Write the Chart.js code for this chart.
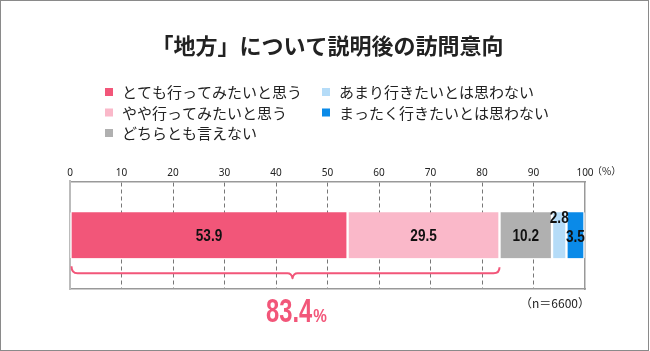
<!DOCTYPE html>
<html>
<head>
<meta charset="utf-8">
<script src="https://cdn.jsdelivr.net/npm/chart.js@4"></script>
<style>
  html, body { margin: 0; padding: 0; background: #fff; }
  #wrap { position: relative; width: 650px; height: 351px; }
  canvas { display: block; }
</style>
</head>
<body>
<div id="wrap"><canvas id="c" width="650" height="351"></canvas></div>
<script>
// ---- data ----
const chartTitle = '「地方」について説明後の訪問意向';
const categories = ['訪問意向'];
const seriesLabels = [
  'とても行ってみたいと思う',
  'やや行ってみたいと思う',
  'どちらとも言えない',
  'あまり行きたいとは思わない',
  'まったく行きたいとは思わない'
];
const seriesValues = [53.9, 29.5, 10.2, 2.8, 3.5];
const xTicks = [0, 10, 20, 30, 40, 50, 60, 70, 80, 90, 100];
const unitLabel = '（%）';
const sampleNote = '（n＝6600）';
const braceSeries = [0, 1]; // series summed under the brace

// ---- styles ----
const seriesColors = ['#F25679', '#FAB8C9', '#B0B0B0', '#B5DCF8', '#0A8AE8'];
const labelDy = [0, 0, 0, -18, 1];
const PINK = '#F25679';
const NUM_FONT = "'Liberation Sans', Arial, sans-serif";
const JP_FONT = "'Noto Sans CJK JP', 'Noto Sans', sans-serif";

const datasets = seriesLabels.map((lab, i) => ({
  label: lab,
  data: [seriesValues[i]],
  backgroundColor: seriesColors[i],
  borderColor: '#ffffff',
  borderWidth: { left: 1.5, right: 1.5, top: 0, bottom: 0 },
  borderSkipped: false,
  barThickness: 46,
  labelDy: labelDy[i]
}));

function narrowText(ctx, text, x, y, font, sx, align) {
  ctx.save();
  ctx.font = font;
  const w = ctx.measureText(text).width * sx;
  let left = x;
  if (align === 'center') left = x - w / 2;
  else if (align === 'right') left = x - w;
  ctx.translate(left, y);
  ctx.scale(sx, 1);
  ctx.textAlign = 'left';
  ctx.fillText(text, 0, 0);
  ctx.restore();
  return w;
}

const framePlugin = {
  id: 'frame',
  afterDraw(chart) {
    const ctx = chart.ctx;
    ctx.save();
    ctx.strokeStyle = '#8a8a8a';
    ctx.lineWidth = 1;
    ctx.strokeRect(0.5, 0.5, chart.width - 2, chart.height - 1);
    ctx.restore();
  }
};

const legendPlugin = {
  id: 'gridLegend',
  afterDraw(chart) {
    const ctx = chart.ctx;
    const rows = 3;
    const colX = [105, 322];
    const rowY = [92, 112.5, 133];
    ctx.save();
    ctx.font = '15px ' + JP_FONT;
    ctx.textBaseline = 'middle';
    ctx.textAlign = 'left';
    chart.data.datasets.forEach((ds, i) => {
      const c = Math.floor(i / rows), r = i % rows;
      const x = colX[c], y = rowY[r];
      ctx.fillStyle = ds.backgroundColor;
      ctx.fillRect(x, y - 4, 8, 8);
      ctx.fillStyle = '#222';
      ctx.fillText(ds.label, x + 17, y + 0.5);
    });
    ctx.restore();
  }
};

const labelsPlugin = {
  id: 'barLabels',
  afterDatasetsDraw(chart) {
    const ctx = chart.ctx;
    ctx.save();
    ctx.fillStyle = '#111';
    ctx.textBaseline = 'middle';
    chart.data.datasets.forEach((ds, i) => {
      const meta = chart.getDatasetMeta(i);
      meta.data.forEach((el, j) => {
        const p = el.getProps(['x', 'y', 'base'], true);
        const cx = (p.x + p.base) / 2;
        narrowText(ctx, ds.data[j].toFixed(1), cx, p.y + (ds.labelDy || 0) + 1, 'bold 17px ' + NUM_FONT, 0.8, 'center');
      });
    });
    ctx.restore();
  }
};

const bracePlugin = {
  id: 'brace',
  afterDatasetsDraw(chart) {
    const ctx = chart.ctx;
    const xs = chart.scales.x;
    const el = chart.getDatasetMeta(0).data[0];
    const props = el.getProps(['y', 'height'], true);
    const barBottom = props.y + props.height / 2;
    const total = braceSeries.reduce((s, i) => s + seriesValues[i], 0);
    const x0 = xs.getPixelForValue(0) + 1.5;
    const x1 = xs.getPixelForValue(total);
    const y = barBottom + 15;
    const m = (x0 + x1) / 2 + 7;
    ctx.save();
    ctx.strokeStyle = PINK;
    ctx.lineWidth = 2;
    ctx.lineJoin = 'round';
    ctx.beginPath();
    ctx.moveTo(x0, y - 7);
    ctx.quadraticCurveTo(x0, y, x0 + 6, y);
    ctx.lineTo(m - 5, y);
    ctx.quadraticCurveTo(m - 1, y, m, y + 5);
    ctx.quadraticCurveTo(m + 1, y, m + 5, y);
    ctx.lineTo(x1 - 6, y);
    ctx.quadraticCurveTo(x1, y, x1, y - 6);
    ctx.stroke();

    // total text
    const big = total.toFixed(1);
    ctx.fillStyle = PINK;
    ctx.textBaseline = 'alphabetic';
    const bigFont = 'bold 33px ' + NUM_FONT;
    const pctFont = 'bold 18px ' + NUM_FONT;
    const sBig = 0.72, sPct = 0.85;
    ctx.font = bigFont;
    const wBig = ctx.measureText(big).width * sBig;
    ctx.font = pctFont;
    const wPct = ctx.measureText('%').width * sPct;
    const startX = m + 4 - (wBig + wPct + 1) / 2;
    const baseY = y + 48.5;
    narrowText(ctx, big, startX, baseY, bigFont, sBig, 'left');
    narrowText(ctx, '%', startX + wBig + 1, baseY, pctFont, sPct, 'left');

    // sample note
    ctx.font = '12px ' + JP_FONT;
    ctx.fillStyle = '#222';
    ctx.textAlign = 'right';
    ctx.textBaseline = 'middle';
    ctx.fillText(sampleNote, chart.chartArea.right + 5, chart.chartArea.bottom + 14);

    // unit label after last tick
    ctx.font = '10px ' + JP_FONT;
    ctx.textAlign = 'left';
    ctx.fillText(unitLabel, xs.getPixelForValue(xTicks[xTicks.length - 1]) + 7, chart.chartArea.top - 10);
    ctx.restore();
  }
};

new Chart(document.getElementById('c'), {
  type: 'bar',
  data: { labels: categories, datasets },
  options: {
    indexAxis: 'y',
    responsive: false,
    animation: false,
    devicePixelRatio: 1,
    layout: { padding: { top: 0, left: 70, right: 65, bottom: 62 } },
    plugins: {
      legend: { display: false },
      tooltip: { enabled: false },
      title: {
        display: true,
        text: chartTitle,
        color: '#222',
        font: { family: JP_FONT, size: 22, weight: 'bold', lineHeight: 1.2 },
        padding: { top: 32, bottom: 95 }
      }
    },
    scales: {
      x: {
        type: 'linear',
        position: 'top',
        stacked: true,
        min: 0,
        max: 100,
        afterBuildTicks(scale) { scale.ticks = xTicks.map(v => ({ value: v })); },
        afterFit(scale) { scale.height = 28; },
        ticks: {
          color: '#222',
          font: { family: "'Noto Sans', 'DejaVu Sans', sans-serif", size: 10 },
          padding: 2,
          maxRotation: 0,
          autoSkip: false
        },
        grid: {
          drawTicks: false,
          lineWidth: 1,
          color: (ctx) => (ctx.tick && (ctx.tick.value === 0 || ctx.tick.value === 100)) ? 'rgba(0,0,0,0)' : '#777'
        },
        border: { display: true, color: '#999', width: 1.5, dash: [4, 3] }
      },
      xb: {
        type: 'linear',
        position: 'bottom',
        min: 0,
        max: 100,
        ticks: { display: false },
        grid: { display: false, drawTicks: false },
        border: { display: true, color: '#999', width: 1.5 },
        afterFit(scale) { scale.height = 0; }
      },
      y: {
        stacked: true,
        position: 'left',
        ticks: { display: false },
        grid: { display: false, drawTicks: false },
        border: { display: true, color: '#bbb', width: 2 },
        afterFit(scale) { scale.width = 0; }
      },
      yr: {
        type: 'category',
        position: 'right',
        labels: categories,
        ticks: { display: false },
        grid: { display: false, drawTicks: false },
        border: { display: true, color: '#999', width: 1.5 },
        afterFit(scale) { scale.width = 0; }
      }
    }
  },
  plugins: [legendPlugin, labelsPlugin, bracePlugin, framePlugin]
});
</script>
</body>
</html>
